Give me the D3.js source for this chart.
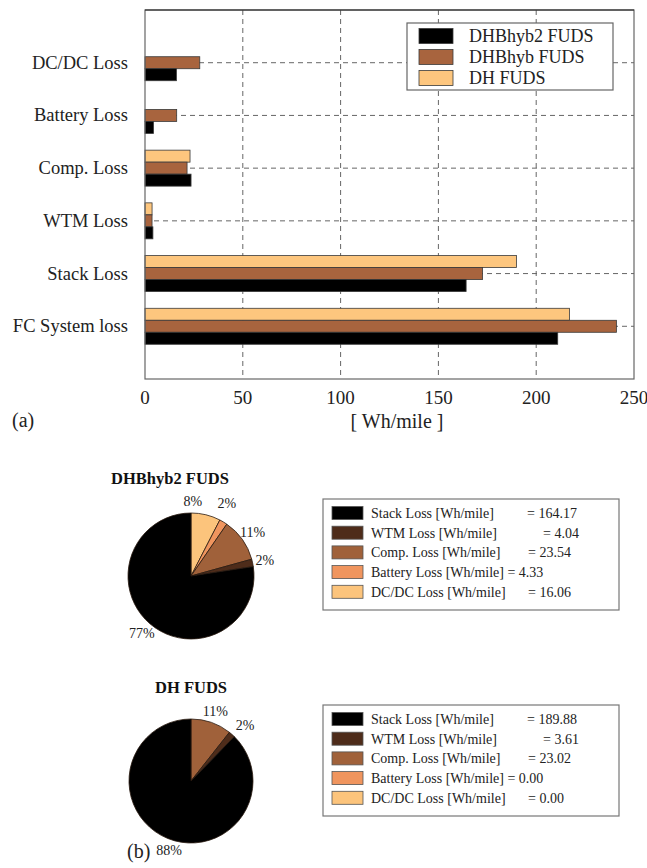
<!DOCTYPE html>
<html>
<head>
<meta charset="utf-8">
<script src="https://cdn.jsdelivr.net/npm/d3@7"></script>
<style>
  body { margin: 0; background: #fff; }
  svg { font-family: "Liberation Serif", "DejaVu Serif", serif; }
</style>
</head>
<body>
<svg id="chart" width="647" height="868"></svg>
<script>
// categories, top to bottom in the bar chart
var categories = ["DC/DC Loss", "Battery Loss", "Comp. Loss", "WTM Loss", "Stack Loss", "FC System loss"];
// series, drawn top to bottom inside each group
var seriesNames = ["DH FUDS", "DHBhyb FUDS", "DHBhyb2 FUDS"];
var dhValues      = [0, 0, 23.02, 3.61, 189.88, 217];
var dhbhybValues  = [28, 16.2, 21.5, 3.6, 172.6, 241];
var dhbhyb2Values = [16.06, 4.33, 23.54, 4.04, 164.17, 211];
var xTicks = [0, 50, 100, 150, 200, 250];

// pie charts (legend order)
var pieParts = ["Stack Loss", "WTM Loss", "Comp. Loss", "Battery Loss", "DC/DC Loss"];
var pieHyb2Values = [164.17, 4.04, 23.54, 4.33, 16.06];
var pieDhValues   = [189.88, 3.61, 23.02, 0.00, 0.00];

var seriesColor = { "DH FUDS": "#fdc67e", "DHBhyb FUDS": "#a8643e", "DHBhyb2 FUDS": "#000000" };
var partColor = { "Stack Loss": "#000000", "WTM Loss": "#4e2c1a", "Comp. Loss": "#a0613a",
                  "Battery Loss": "#f0955e", "DC/DC Loss": "#fcc47c" };

var svg = d3.select("#chart");

// ---------- (a) bar chart ----------
var plot = { left: 145, right: 634, top: 10, bottom: 379 };

var x = d3.scaleLinear().domain([0, 250]).range([plot.left, plot.right]);
var y = d3.scalePoint().domain(categories).range([plot.top, plot.bottom]).padding(1);
var ySub = d3.scaleBand().domain(seriesNames).range([-18, 18]);

var seriesValues = { "DH FUDS": dhValues, "DHBhyb FUDS": dhbhybValues, "DHBhyb2 FUDS": dhbhyb2Values };

// grid
var grid = svg.append("g").attr("stroke", "#666").attr("stroke-dasharray", "5,4").attr("stroke-width", 1);
grid.selectAll(".vg")
    .data(xTicks.slice(1, -1))
    .enter().append("line")
    .attr("x1", d => x(d)).attr("x2", d => x(d))
    .attr("y1", plot.top).attr("y2", plot.bottom);
grid.selectAll(".hg")
    .data(categories)
    .enter().append("line")
    .attr("x1", plot.left).attr("x2", plot.right)
    .attr("y1", d => y(d)).attr("y2", d => y(d));

// bars
var barData = [];
seriesNames.forEach(function(s) {
    categories.forEach(function(c, i) {
        if (seriesValues[s][i] > 0) barData.push({ series: s, cat: c, value: seriesValues[s][i] });
    });
});
svg.append("g").selectAll("rect")
    .data(barData)
    .enter().append("rect")
    .attr("x", x(0))
    .attr("y", d => y(d.cat) + ySub(d.series))
    .attr("width", d => x(d.value) - x(0))
    .attr("height", ySub.bandwidth())
    .attr("fill", d => seriesColor[d.series])
    .attr("stroke", "#3a3a3a")
    .attr("stroke-width", 0.8);

// frame
svg.append("rect")
    .attr("x", plot.left).attr("y", plot.top)
    .attr("width", plot.right - plot.left).attr("height", plot.bottom - plot.top)
    .attr("fill", "none").attr("stroke", "#666").attr("stroke-width", 1.2);
svg.append("line")
    .attr("x1", plot.left).attr("x2", plot.right).attr("y1", plot.top).attr("y2", plot.top)
    .attr("stroke", "#222").attr("stroke-width", 1.2);

// x axis labels
svg.append("g").selectAll("text")
    .data(xTicks)
    .enter().append("text")
    .attr("x", d => x(d)).attr("y", 404)
    .attr("text-anchor", "middle")
    .style("font-size", "19px").attr("fill", "#222")
    .text(d => d);

svg.append("text")
    .attr("x", 397).attr("y", 428)
    .attr("text-anchor", "middle")
    .style("font-size", "20px").attr("fill", "#222")
    .text("[ Wh/mile ]");

svg.append("text")
    .attr("x", 12).attr("y", 427)
    .style("font-size", "20px").attr("fill", "#222")
    .text("(a)");

// category labels
svg.append("g").selectAll("text")
    .data(categories)
    .enter().append("text")
    .attr("x", 128).attr("y", d => y(d) + 6)
    .attr("text-anchor", "end")
    .style("font-size", "18.5px").attr("fill", "#222")
    .text(d => d);

// bar legend
var leg = svg.append("g");
leg.append("rect")
    .attr("x", 407).attr("y", 23).attr("width", 206).attr("height", 67)
    .attr("fill", "#fff").attr("stroke", "#666").attr("stroke-width", 1.2);
var legOrder = seriesNames.slice().reverse();
var legRow = leg.selectAll(".row")
    .data(legOrder)
    .enter().append("g")
    .attr("transform", (d, i) => "translate(0," + (36 + i * 21) + ")");
legRow.append("rect")
    .attr("x", 419).attr("y", -7.5).attr("width", 34).attr("height", 15)
    .attr("fill", d => seriesColor[d]).attr("stroke", "#3a3a3a").attr("stroke-width", 0.8);
legRow.append("text")
    .attr("x", 469).attr("y", 6)
    .style("font-size", "18px").attr("fill", "#222")
    .text(d => d);

// ---------- (b) pie charts ----------
// x of the "=" column in each legend row (Battery row runs on)
var eqX = [527, 543, 528, null, 528];

function drawPie(opts) {
    var data = pieParts.map((p, i) => ({ part: p, value: opts.values[i] }));
    var total = d3.sum(data, d => d.value);
    // slices run clockwise from 12 o'clock, DC/DC first
    var pie = d3.pie().sort(null).value(d => d.value);
    var arcs = pie(data.slice().reverse());
    var arc = d3.arc().innerRadius(0).outerRadius(opts.r);
    var labelArc = d3.arc().innerRadius(opts.r * 1.2).outerRadius(opts.r * 1.2);

    var g = svg.append("g").attr("transform", "translate(" + opts.cx + "," + opts.cy + ")");
    g.selectAll("path")
        .data(arcs.filter(a => a.value > 0))
        .enter().append("path")
        .attr("d", arc)
        .attr("fill", d => partColor[d.data.part])
        .attr("stroke", "#2a1a10").attr("stroke-width", 0.8);
    g.selectAll("text")
        .data(arcs.filter(a => a.value > 0))
        .enter().append("text")
        .attr("x", d => labelArc.centroid(d)[0] + (opts.nudge[d.data.part] || [0, 0])[0])
        .attr("y", d => labelArc.centroid(d)[1] + (opts.nudge[d.data.part] || [0, 0])[1] + 5)
        .attr("text-anchor", "middle")
        .style("font-size", "14px").attr("fill", "#222")
        .text(d => Math.round(d.value / total * 100) + "%");

    svg.append("text")
        .attr("x", opts.titleX).attr("y", opts.titleY)
        .attr("text-anchor", "middle")
        .style("font-size", "16.5px").style("font-weight", "bold").attr("fill", "#111")
        .text(opts.title);

    // legend
    var lg = svg.append("g");
    lg.append("rect")
        .attr("x", 323).attr("y", opts.legTop).attr("width", 296).attr("height", 111)
        .attr("fill", "#fff").attr("stroke", "#777").attr("stroke-width", 1.2);
    var rows = lg.selectAll(".row")
        .data(data)
        .enter().append("g")
        .attr("transform", (d, i) => "translate(0," + (opts.legTop + 14 + i * 19.7) + ")");
    rows.append("rect")
        .attr("x", 332).attr("y", -6.5).attr("width", 31).attr("height", 13)
        .attr("fill", d => partColor[d.part]).attr("stroke", "#555").attr("stroke-width", 0.8);
    rows.append("text")
        .attr("x", 371).attr("y", 5)
        .style("font-size", "14px").attr("fill", "#222")
        .text((d, i) => d.part + " [Wh/mile]" + (eqX[i] ? "" : " = " + d.value.toFixed(2)));
    rows.filter((d, i) => eqX[i])
        .append("text")
        .attr("x", d => eqX[pieParts.indexOf(d.part)]).attr("y", 5)
        .style("font-size", "14px").attr("fill", "#222")
        .text(d => "= " + d.value.toFixed(2));
}

drawPie({
    values: pieHyb2Values, cx: 191, cy: 576, r: 63,
    title: "DHBhyb2 FUDS", titleX: 170, titleY: 484,
    legTop: 499,
    nudge: { "DC/DC Loss": [-16, -2], "Battery Loss": [-3, -8] }
});
drawPie({
    values: pieDhValues, cx: 191, cy: 781, r: 62,
    title: "DH FUDS", titleX: 191, titleY: 693,
    legTop: 705,
    nudge: { "WTM Loss": [5, 0], "Stack Loss": [6, 0] }
});

svg.append("text")
    .attr("x", 127).attr("y", 858)
    .style("font-size", "20px").attr("fill", "#222")
    .text("(b)");
</script>
</body>
</html>
